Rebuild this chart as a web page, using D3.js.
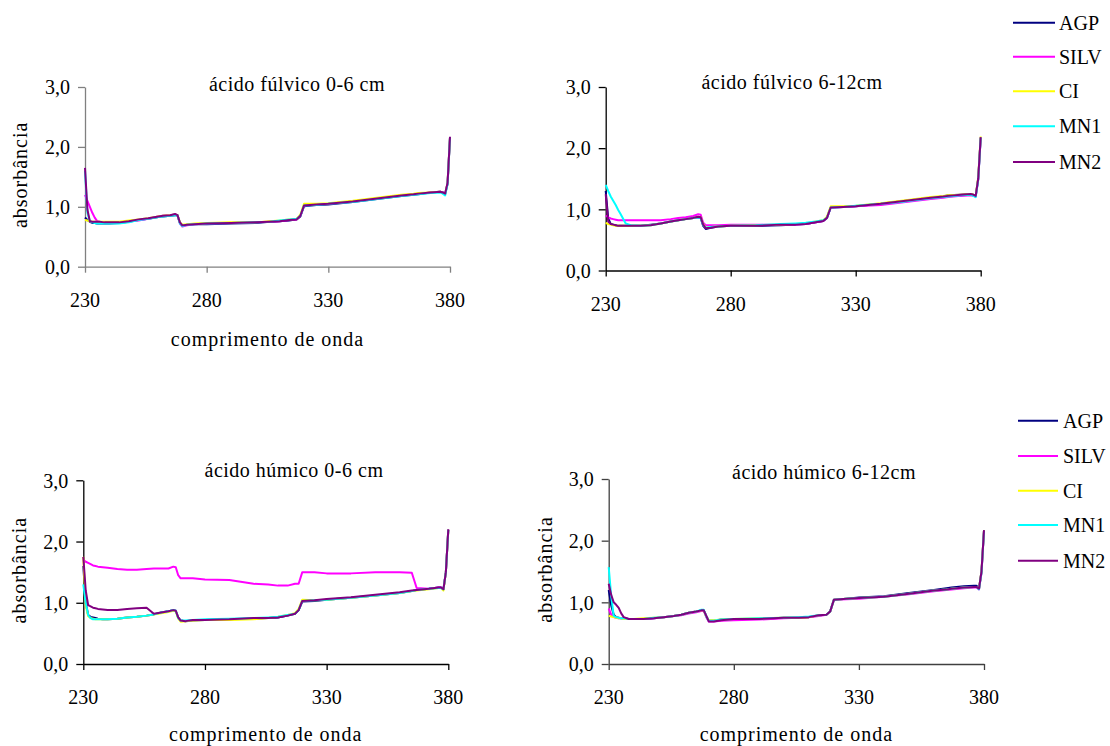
<!DOCTYPE html>
<html><head><meta charset="utf-8">
<script src="https://cdn.jsdelivr.net/npm/d3@7"></script>
</head><body style="margin:0">
<svg id="fig" width="1110" height="746"></svg>
<script>
// ---------------- DATA ----------------
const wavelengths = [230,231,232,233,234,235,236, 238,240,244,248,252,256,259,262,265,267,
  268,269,270,272,275,280,290,300,306,310, 314,317,318.5,320,325,330,340,350,360,365,
  367,372,376,377,378,379,380];

const seriesNames = ["AGP", "SILV", "CI", "MN1", "MN2"];
const xTickValues = [230, 280, 330, 380];
const yTickValues = [0, 1, 2, 3];
const panelTitles = ["ácido fúlvico 0-6 cm", "ácido fúlvico 6-12cm", "ácido húmico 0-6 cm", "ácido húmico 6-12cm"];
const xAxisTitle = "comprimento de onda";
const yAxisTitle = "absorbância";

// ácido fúlvico 0-6 cm
const fulvic06_AGP  = [0.82,0.78,0.75,0.73,0.73,0.72,0.72, 0.72,0.72,0.73,0.75,0.78,0.80,0.82,0.84,0.85,0.86, 0.86,0.73,0.69,0.70,0.71,0.71,0.72,0.73,0.75,0.76, 0.77,0.79,0.84,1.01,1.03,1.04,1.08,1.13,1.18,1.20, 1.21,1.24,1.25,1.24,1.22,1.38,2.15];
const fulvic06_SILV = [1.20,1.10,1.00,0.90,0.82,0.76,0.75, 0.74,0.74,0.74,0.76,0.77,0.80,0.83,0.85,0.86,0.87, 0.86,0.72,0.67,0.69,0.71,0.72,0.73,0.74,0.75,0.76, 0.78,0.79,0.85,1.02,1.04,1.05,1.09,1.14,1.19,1.21, 1.22,1.24,1.25,1.24,1.21,1.40,2.16];
const fulvic06_CI   = [0.78,0.77,0.76,0.75,0.75,0.75,0.75, 0.75,0.75,0.75,0.77,0.79,0.81,0.83,0.85,0.86,0.87, 0.86,0.74,0.70,0.71,0.72,0.73,0.74,0.74,0.76,0.77, 0.79,0.80,0.87,1.05,1.05,1.06,1.10,1.15,1.20,1.22, 1.23,1.24,1.25,1.23,1.21,1.40,2.16];
const fulvic06_MN1  = [1.60,0.90,0.76,0.74,0.73,0.72,0.72, 0.72,0.72,0.72,0.74,0.78,0.80,0.82,0.84,0.85,0.86, 0.86,0.72,0.68,0.70,0.71,0.72,0.73,0.74,0.75,0.77, 0.79,0.80,0.85,1.02,1.03,1.05,1.08,1.13,1.18,1.20, 1.21,1.23,1.24,1.22,1.19,1.38,2.16];
const fulvic06_MN2  = [1.65,0.95,0.76,0.75,0.75,0.75,0.75, 0.74,0.74,0.74,0.76,0.79,0.81,0.83,0.85,0.86,0.88, 0.86,0.74,0.69,0.70,0.71,0.72,0.73,0.74,0.75,0.76, 0.78,0.79,0.85,1.02,1.04,1.05,1.09,1.14,1.19,1.21, 1.22,1.24,1.25,1.24,1.22,1.40,2.17];

// ácido fúlvico 6-12cm
const fulvic612_AGP  = [1.30,0.85,0.76,0.75,0.74,0.73,0.73, 0.73,0.73,0.73,0.75,0.77,0.80,0.82,0.84,0.86,0.87, 0.86,0.73,0.68,0.70,0.72,0.73,0.73,0.74,0.75,0.76, 0.79,0.81,0.86,1.03,1.04,1.05,1.09,1.14,1.19,1.21, 1.23,1.24,1.25,1.24,1.22,1.50,2.17];
const fulvic612_SILV = [0.90,0.87,0.85,0.84,0.83,0.82,0.82, 0.82,0.82,0.82,0.82,0.82,0.84,0.86,0.87,0.89,0.92, 0.91,0.78,0.74,0.74,0.74,0.75,0.75,0.75,0.75,0.76, 0.79,0.81,0.86,1.03,1.04,1.05,1.07,1.12,1.17,1.19, 1.20,1.22,1.23,1.22,1.21,1.48,2.17];
const fulvic612_CI   = [0.78,0.76,0.75,0.74,0.73,0.73,0.73, 0.73,0.73,0.73,0.74,0.77,0.80,0.82,0.84,0.86,0.88, 0.87,0.76,0.70,0.71,0.72,0.73,0.74,0.75,0.76,0.77, 0.80,0.82,0.88,1.05,1.05,1.06,1.10,1.15,1.20,1.22, 1.23,1.24,1.25,1.24,1.22,1.52,2.19];
const fulvic612_MN1  = [1.40,1.30,1.21,1.14,1.07,0.99,0.92, 0.77,0.74,0.73,0.74,0.77,0.80,0.82,0.84,0.86,0.87, 0.86,0.74,0.70,0.71,0.72,0.73,0.74,0.76,0.77,0.78, 0.80,0.82,0.86,1.03,1.04,1.06,1.09,1.13,1.18,1.20, 1.21,1.23,1.24,1.22,1.20,1.48,2.17];
const fulvic612_MN2  = [1.25,0.80,0.76,0.75,0.74,0.73,0.73, 0.73,0.73,0.73,0.74,0.77,0.80,0.82,0.84,0.86,0.88, 0.87,0.75,0.69,0.70,0.72,0.73,0.73,0.75,0.75,0.76, 0.79,0.81,0.86,1.03,1.04,1.05,1.09,1.14,1.19,1.21, 1.22,1.24,1.25,1.24,1.22,1.50,2.18];

// ácido húmico 0-6 cm
const humic06_AGP  = [1.60,1.00,0.80,0.77,0.76,0.75,0.74, 0.73,0.73,0.74,0.76,0.77,0.79,0.81,0.84,0.86,0.88, 0.87,0.76,0.71,0.70,0.71,0.72,0.73,0.74,0.75,0.76, 0.79,0.82,0.88,1.02,1.03,1.05,1.08,1.12,1.16,1.19, 1.21,1.23,1.25,1.25,1.22,1.50,2.19];
const humic06_SILV = [1.70,1.67,1.65,1.63,1.61,1.60,1.59, 1.58,1.57,1.55,1.54,1.54,1.55,1.56,1.56,1.56,1.59, 1.58,1.45,1.40,1.40,1.40,1.38,1.37,1.31,1.30,1.28, 1.28,1.31,1.31,1.50,1.50,1.48,1.48,1.50,1.50,1.49, 1.24,1.23,1.25,1.25,1.22,1.50,2.19];
const humic06_CI   = [1.75,0.95,0.78,0.75,0.74,0.73,0.73, 0.73,0.73,0.74,0.76,0.77,0.79,0.81,0.83,0.85,0.87, 0.86,0.74,0.69,0.70,0.71,0.72,0.72,0.73,0.75,0.77, 0.80,0.83,0.90,1.05,1.04,1.05,1.08,1.12,1.16,1.19, 1.20,1.22,1.24,1.24,1.20,1.50,2.19];
const humic06_MN1  = [1.30,1.00,0.80,0.75,0.73,0.73,0.73, 0.73,0.73,0.74,0.76,0.77,0.79,0.81,0.84,0.86,0.88, 0.87,0.75,0.71,0.71,0.72,0.73,0.74,0.75,0.76,0.77, 0.80,0.82,0.88,1.03,1.04,1.05,1.08,1.12,1.16,1.19, 1.21,1.23,1.24,1.24,1.22,1.50,2.19];
const humic06_MN2  = [1.75,1.20,0.96,0.94,0.92,0.91,0.90, 0.89,0.88,0.88,0.90,0.91,0.92,0.82,0.84,0.86,0.88, 0.87,0.76,0.71,0.70,0.72,0.72,0.73,0.75,0.75,0.76, 0.79,0.82,0.88,1.03,1.04,1.06,1.09,1.13,1.17,1.20, 1.21,1.23,1.25,1.25,1.22,1.50,2.20];

// ácido húmico 6-12cm
const humic612_AGP  = [1.20,0.95,0.80,0.76,0.75,0.74,0.74, 0.73,0.73,0.73,0.74,0.76,0.78,0.80,0.83,0.85,0.87, 0.87,0.78,0.70,0.70,0.72,0.73,0.73,0.75,0.75,0.76, 0.79,0.80,0.85,1.04,1.06,1.08,1.10,1.15,1.20,1.23, 1.24,1.26,1.27,1.27,1.22,1.50,2.17];
const humic612_SILV = [0.90,0.80,0.76,0.75,0.74,0.74,0.74, 0.73,0.73,0.73,0.74,0.76,0.78,0.79,0.82,0.84,0.86, 0.86,0.76,0.69,0.69,0.70,0.71,0.72,0.74,0.75,0.76, 0.78,0.80,0.85,1.04,1.05,1.06,1.09,1.13,1.18,1.20, 1.21,1.23,1.24,1.24,1.21,1.48,2.16];
const humic612_CI   = [0.78,0.77,0.76,0.75,0.74,0.74,0.73, 0.73,0.73,0.74,0.75,0.76,0.78,0.80,0.83,0.85,0.87, 0.87,0.77,0.71,0.71,0.72,0.73,0.74,0.75,0.75,0.76, 0.79,0.80,0.85,1.04,1.06,1.07,1.09,1.14,1.19,1.21, 1.22,1.24,1.25,1.25,1.22,1.50,2.17];
const humic612_MN1  = [1.57,1.10,0.78,0.76,0.75,0.74,0.74, 0.73,0.73,0.73,0.75,0.76,0.78,0.80,0.83,0.85,0.88, 0.88,0.77,0.70,0.70,0.72,0.73,0.74,0.75,0.76,0.77, 0.79,0.80,0.85,1.04,1.06,1.07,1.09,1.14,1.19,1.21, 1.22,1.24,1.25,1.25,1.21,1.48,2.16];
const humic612_MN2  = [1.30,1.12,1.00,0.96,0.91,0.82,0.76, 0.73,0.73,0.73,0.74,0.76,0.78,0.80,0.83,0.85,0.87, 0.87,0.78,0.69,0.69,0.71,0.73,0.73,0.75,0.75,0.76, 0.79,0.80,0.85,1.04,1.06,1.07,1.09,1.14,1.19,1.21, 1.22,1.24,1.25,1.25,1.22,1.50,2.17];

const panelSeries = [
  [fulvic06_AGP, fulvic06_SILV, fulvic06_CI, fulvic06_MN1, fulvic06_MN2],
  [fulvic612_AGP, fulvic612_SILV, fulvic612_CI, fulvic612_MN1, fulvic612_MN2],
  [humic06_AGP, humic06_SILV, humic06_CI, humic06_MN1, humic06_MN2],
  [humic612_AGP, humic612_SILV, humic612_CI, humic612_MN1, humic612_MN2]
];

// ---------------- STYLE / LAYOUT ----------------
const seriesColors = ["#000080", "#FF00FF", "#FFFF00", "#00FFFF", "#800080"];
const FF = "Times New Roman";
const FS = 20;

const panels = [
  { left: 85,    right: 450,   top: 87,  bottom: 266.7, axisColor: "#808080",
    titleX: 297, titleY: 91, showXTitle: true, showYTitle: true, yTitleX: 27, xTitleY: 346 },
  { left: 605.7, right: 980.7, top: 87,  bottom: 270.5, axisColor: "#000000",
    titleX: 792, titleY: 89, showXTitle: false, showYTitle: false },
  { left: 83.3,  right: 448.3, top: 480.3, bottom: 664, axisColor: "#000000",
    titleX: 294, titleY: 477, showXTitle: true, showYTitle: true, yTitleX: 26, xTitleY: 741 },
  { left: 608.7, right: 984,   top: 479, bottom: 664, axisColor: "#404040",
    titleX: 824, titleY: 479, showXTitle: true, showYTitle: true, yTitleX: 552, xTitleY: 741 }
];

const legends = [
  { x1: 1013, x2: 1055, tx: 1059, ys: [22.7, 56.7, 91.3, 126.3, 162] },
  { x1: 1018, x2: 1058, tx: 1063, ys: [420.7, 456, 490.7, 525, 560.7] }
];

const svg = d3.select("#fig");
const fmt = d => d3.format(".1f")(d).replace(".", ",");

function addText(parent, x, y, str) {
  return parent.append("text").attr("x", x).attr("y", y)
    .attr("font-size", FS).attr("font-family", FF).text(str);
}

panels.forEach((p, i) => {
  const x = d3.scaleLinear().domain([230, 380]).range([p.left, p.right]);
  const y = d3.scaleLinear().domain([0, 3]).range([p.bottom, p.top]);

  const ya = svg.append("g").attr("transform", `translate(${p.left},0)`)
    .call(d3.axisLeft(y).tickValues(yTickValues).tickFormat("").tickSize(7).tickSizeOuter(0));
  const xa = svg.append("g").attr("transform", `translate(0,${p.bottom})`)
    .call(d3.axisBottom(x).tickValues(xTickValues).tickFormat("").tickSize(6).tickSizeOuter(0));
  [ya, xa].forEach(a => {
    a.attr("font-family", FF);
    a.selectAll("text").remove();
    a.selectAll("path, line").attr("stroke", p.axisColor).attr("stroke-width", 1.3);
  });
  yTickValues.forEach(v => {
    addText(svg, p.left - 15, y(v), fmt(v)).attr("text-anchor", "end").attr("dy", "0.36em");
  });
  xTickValues.forEach(v => {
    addText(svg, x(v), p.bottom + 40, String(v)).attr("text-anchor", "middle");
  });

  const line = d3.line().x((d, k) => x(wavelengths[k])).y(d => y(d));
  panelSeries[i].forEach((vals, s) => {
    svg.append("path").datum(vals)
      .attr("d", line)
      .attr("fill", "none")
      .attr("stroke", seriesColors[s])
      .attr("stroke-width", 2)
      .attr("stroke-linejoin", "round");
  });

  addText(svg, p.titleX, p.titleY, panelTitles[i]).attr("text-anchor", "middle").attr("letter-spacing", 0.5);

  if (p.showXTitle) {
    addText(svg, (p.left + p.right) / 2, p.xTitleY, xAxisTitle).attr("text-anchor", "middle").attr("letter-spacing", 1);
  }
  if (p.showYTitle) {
    const cy = (p.top + p.bottom) / 2 - 2;
    addText(svg, 0, 0, yAxisTitle).attr("transform", `translate(${p.yTitleX},${cy}) rotate(-90)`)
      .attr("text-anchor", "middle").attr("letter-spacing", 1);
  }
});

legends.forEach(L => {
  seriesNames.forEach((name, s) => {
    svg.append("line").attr("x1", L.x1).attr("x2", L.x2).attr("y1", L.ys[s]).attr("y2", L.ys[s])
      .attr("stroke", seriesColors[s]).attr("stroke-width", 2);
    addText(svg, L.tx, L.ys[s], name).attr("dy", "0.35em");
  });
});
</script>
</body>
</html>
